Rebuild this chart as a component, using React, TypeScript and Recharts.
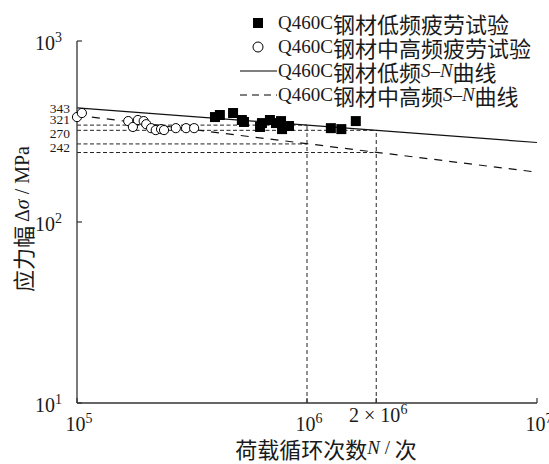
import React from 'react';
import { ComposedChart, XAxis, YAxis, Scatter, Line, ReferenceLine } from 'recharts';

// low frequency fatigue tests (filled squares): cycles N, stress range MPa
const lowFreqN = [3.98e5, 4.18e5, 4.77e5, 5.21e5, 5.32e5, 6.25e5, 6.37e5, 6.9e5, 7.33e5, 7.71e5, 7.79e5, 8.35e5, 1.27e6, 1.41e6, 1.63e6];
const lowFreqS = [380, 390, 400, 366, 357, 335, 352, 366, 352, 361, 326, 339, 330, 326, 361];

// mid/high frequency fatigue tests (open circles)
const midFreqN = [1.0e5, 1.05e5, 1.67e5, 1.75e5, 1.84e5, 1.95e5, 2.0e5, 2.1e5, 2.2e5, 2.32e5, 2.39e5, 2.69e5, 2.98e5, 3.23e5];
const midFreqS = [380, 400, 361, 335, 366, 361, 347, 330, 322, 326, 322, 330, 330, 330];

// S-N curves, end points
const lowCurveN = [1e5, 1e7];
const lowCurveS = [427, 275];
const midCurveN = [1e5, 9.5e6];
const midCurveS = [389, 190];

// dotted guide lines: stress level and the N where it stops
const guideS = [343, 321, 270, 242];
const guideN = [1e6, 2e6, 1e6, 2e6];

const xTicks = [1e5, 1e6, 2e6, 1e7];
const xTickBase = ['10', '10', '2 × 10', '10'];
const xTickExp = ['5', '6', '6', '7'];
const yTicks = [10, 100, 1000];
const yTickExp = ['1', '2', '3'];

const legendLabels = [
  'Q460C钢材低频疲劳试验',
  'Q460C钢材中高频疲劳试验',
  'Q460C钢材低频_S_–_N_曲线',
  'Q460C钢材中高频_S_–_N_曲线',
];

const SERIF = "'Liberation Serif', 'Times New Roman', serif";
const CJK = "'Noto Sans CJK SC', sans-serif";
const INK = '#1a1a1a';
const AXIS = '#333';

// the small stress labels are nudged up so they don't overlap
const labelShift: Record<number, number> = { 343: -17, 321: -11, 270: -10, 242: -5.5 };

const toPoints = (n: number[], s: number[]) => n.map((v, i) => ({ n: v, s: s[i] }));

const Mixed = ({ text, latin, cjk, h }: { text: string; latin: number; cjk: number; h: number }) => (
  <>
    {text.split('_').map((part, i) =>
      part
        .split(/([\u4e00-\u9fff]+)/)
        .filter(Boolean)
        .map((run, j) => {
          const isCjk = /[\u4e00-\u9fff]/.test(run);
          return (
            <span
              key={`${i}-${j}`}
              style={{
                display: 'inline-block',
                height: h,
                lineHeight: `${h}px`,
                verticalAlign: 'top',
                overflow: 'visible',
                fontFamily: isCjk ? CJK : SERIF,
                fontSize: isCjk ? cjk : latin,
                fontStyle: i % 2 ? 'italic' : 'normal',
                whiteSpace: 'pre',
              }}
            >
              {run}
            </span>
          );
        })
    )}
  </>
);

const XTick = (props: any) => {
  const { x, y, payload } = props;
  const i = xTicks.indexOf(payload.value);
  const raised = payload.value === 2e6;
  return (
    <g>
      <line x1={x} x2={x} y1={y} y2={y - 5} stroke={AXIS} strokeWidth={1.2} />
      <text x={x + 2} y={y + (raised ? 19 : 28)} textAnchor="middle" fontFamily={SERIF} fontSize={20} fill={INK}>
        {xTickBase[i]}
        <tspan fontSize={14} dy={-8}>{xTickExp[i]}</tspan>
      </text>
    </g>
  );
};

const YTick = (props: any) => {
  const { x, y, payload } = props;
  const v = payload.value;
  const p = yTicks.indexOf(v);
  if (p >= 0) {
    return (
      <g>
        <line x1={x} x2={x + 5} y1={y} y2={y} stroke={AXIS} strokeWidth={1.2} />
        <text x={x - 15} y={y + 9} textAnchor="end" fontFamily={SERIF} fontSize={20} fill={INK}>
          10
          <tspan fontSize={14} dy={-8}>{yTickExp[p]}</tspan>
        </text>
      </g>
    );
  }
  return (
    <text x={x - 7} y={y + (labelShift[v] ?? 0) + 4.5} textAnchor="end" fontFamily={SERIF} fontSize={13.5} fill={INK}>
      {v}
    </text>
  );
};

const Square = (props: any) => (
  <rect x={props.cx - 5} y={props.cy - 5} width={10} height={10} fill="#000" />
);
const Circle = (props: any) => (
  <circle cx={props.cx} cy={props.cy} r={4.6} fill="#fff" stroke="#000" strokeWidth={1} />
);

const LegendMark = ({ index }: { index: number }) => (
  <svg width={40} height={24} style={{ flex: 'none' }}>
    {index === 0 && <rect x={15} y={7} width={10} height={10} fill="#000" />}
    {index === 1 && <circle cx={20} cy={12} r={5} fill="#fff" stroke="#000" strokeWidth={1} />}
    {index === 2 && <line x1={2} x2={39} y1={12} y2={12} stroke="#000" strokeWidth={1.2} />}
    {index === 3 && <line x1={2} x2={39} y1={12} y2={12} stroke="#000" strokeWidth={1.2} strokeDasharray="7 5" />}
  </svg>
);

export default function App() {
  const lowPoints = toPoints(lowFreqN, lowFreqS);
  const midPoints = toPoints(midFreqN, midFreqS);
  const stopTop: Record<number, number> = {};
  guideN.forEach((n, i) => {
    stopTop[n] = Math.max(stopTop[n] ?? 0, guideS[i]);
  });

  return (
    <div style={{ position: 'absolute', left: 0, top: 0, width: 549, height: 464, background: '#fff', color: INK }}>
      <ComposedChart width={549} height={464} margin={{ top: 41, right: 12, bottom: 0, left: 0 }}>
        <XAxis
          dataKey="n"
          type="number"
          scale="log"
          domain={[1e5, 1e7]}
          ticks={xTicks}
          interval={0}
          tickSize={0}
          tickMargin={0}
          tick={(p: any) => <XTick {...p} />}
          height={61}
          stroke={AXIS}
          strokeWidth={1.3}
        />
        <YAxis
          dataKey="s"
          type="number"
          scale="log"
          domain={[10, 1000]}
          ticks={[...yTicks, ...guideS]}
          interval={0}
          tickSize={0}
          tickMargin={0}
          tick={(p: any) => <YTick {...p} />}
          width={77}
          stroke={AXIS}
          strokeWidth={1.3}
        />
        {guideS.map((s, i) => (
          <ReferenceLine
            key={`h-${s}`}
            segment={[{ x: 1e5, y: s }, { x: guideN[i], y: s }]}
            stroke="#222"
            strokeWidth={1}
            strokeDasharray="4 2.5"
          />
        ))}
        {Object.keys(stopTop).map((k) => (
          <ReferenceLine
            key={`v-${k}`}
            segment={[{ x: Number(k), y: 10 }, { x: Number(k), y: stopTop[Number(k)] }]}
            stroke="#222"
            strokeWidth={1}
            strokeDasharray="4 3"
          />
        ))}
        <Line
          data={toPoints(lowCurveN, lowCurveS)}
          dataKey="s"
          stroke="#111"
          strokeWidth={1.2}
          dot={false}
          activeDot={false}
          isAnimationActive={false}
        />
        <Line
          data={toPoints(midCurveN, midCurveS)}
          dataKey="s"
          stroke="#111"
          strokeWidth={1.2}
          strokeDasharray="8 7"
          dot={false}
          activeDot={false}
          isAnimationActive={false}
        />
        <Scatter data={midPoints} dataKey="s" shape={Circle} isAnimationActive={false} />
        <Scatter data={lowPoints} dataKey="s" shape={Square} isAnimationActive={false} />
      </ComposedChart>

      <div style={{ position: 'absolute', left: 238, top: 11 }}>
        {legendLabels.map((label, i) => (
          <div key={label} style={{ display: 'flex', alignItems: 'center', height: 24, whiteSpace: 'nowrap' }}>
            <LegendMark index={i} />
            <span style={{ height: 24 }}>
              <Mixed text={label} latin={19} cjk={22} h={24} />
            </span>
          </div>
        ))}
      </div>

      <div
        style={{
          position: 'absolute',
          left: 326,
          top: 448,
          transform: 'translate(-50%, -50%)',
          whiteSpace: 'nowrap',
          height: 24,
        }}
      >
        <Mixed text="荷载循环次数_N_ / 次" latin={19} cjk={22} h={24} />
      </div>

      <div
        style={{
          position: 'absolute',
          left: 22,
          top: 219,
          transform: 'translate(-50%, -50%) rotate(-90deg)',
          whiteSpace: 'nowrap',
          height: 24,
        }}
      >
        <Mixed text="应力幅 Δ_σ_ / MPa" latin={20} cjk={22} h={24} />
      </div>
    </div>
  );
}
